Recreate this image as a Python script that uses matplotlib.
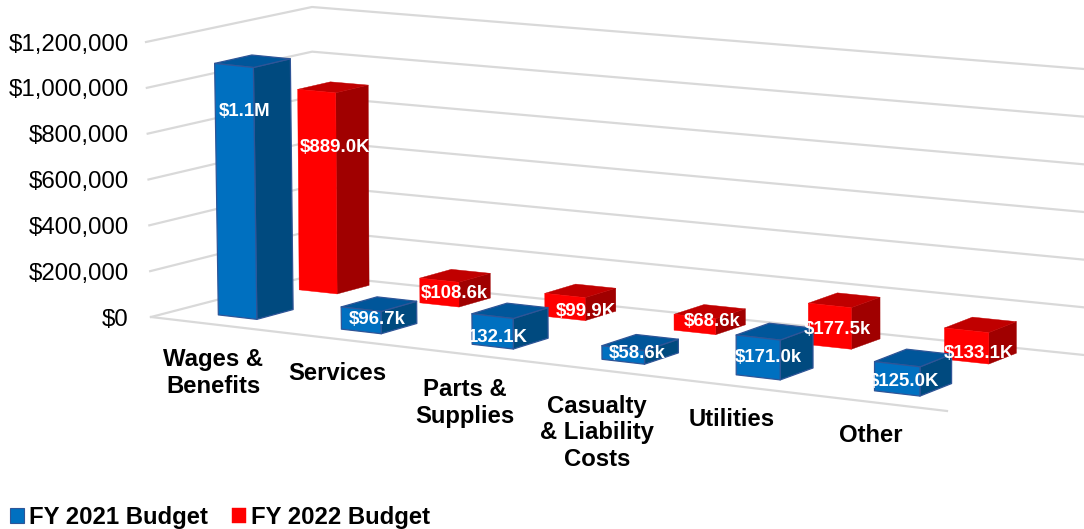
import numpy as np
import matplotlib
matplotlib.use("Agg")
import matplotlib.pyplot as plt
from matplotlib.patches import Polygon, Patch
from matplotlib.ticker import FuncFormatter

plt.rcParams['font.family'] = ['Liberation Sans', 'DejaVu Sans']

# ---- data ----
categories = ["Wages &\nBenefits", "Services", "Parts &\nSupplies",
              "Casualty\n& Liability\nCosts", "Utilities", "Other"]
fy2021 = [1100000, 96700, 132100, 58600, 171000, 125000]
fy2022 = [889000, 108600, 99900, 68600, 177500, 133100]
labels2021 = ["$1.1M", "$96.7k", "132.1K", "$58.6k", "$171.0k", "$125.0K"]
labels2022 = ["$889.0K", "$108.6k", "$99.9K", "$68.6k", "$177.5k", "$133.1K"]
series_names = ["FY 2021 Budget", "FY 2022 Budget"]
value_ticks = [0, 200000, 400000, 600000, 800000, 1000000, 1200000]

# ---- layout / style ----
W, H = 1084, 529
TOP = 1200000
floor_FL, floor_FR, floor_BR, floor_BL = (151, 317), (947, 411), (1084, 355), (313, 275)
height_px = {(0, 0): 275, (1, 0): 280, (1, 1): 286, (0, 1): 268}
tilt_px = {(0, 0): -5, (1, 0): 1, (1, 1): 0, (0, 1): -1}
DEPTH_2021 = (0.155, 0.375)
DEPTH_2022 = (0.713, 0.92)
# small placement corrections of each bar along the category axis
shift2021 = [0.0058, 0.0148, 0.024, 0.022, 0.016, 0.0055]
shift2022 = [-0.0087, 0.0, 0.005, 0.006, 0.004, -0.005]
GRID = "#D9D9D9"
BLUE = dict(front="#0070C0", side="#004A7F", top="#00569A", edge="#2F5597")
RED = dict(front="#FF0000", side="#A00000", top="#C00000", edge=None)
pos2021 = [(245, 112), (377, 320), (498, 337), (637, 353), (768, 357), (904, 381)]
pos2022 = [(335, 147), (454, 293), (586, 311), (712, 322), (837, 330), (979, 353)]
cat_pos = [(213, 373), (337, 374), (465, 403), (597, 433), (732, 420), (871, 435)]


def floor_homography():
    (x0, y0), (x1, y1), (x2, y2), (x3, y3) = floor_FL, floor_FR, floor_BR, floor_BL
    sx, sy = x0 - x1 + x2 - x3, y0 - y1 + y2 - y3
    dx1, dx2, dy1, dy2 = x1 - x2, x3 - x2, y1 - y2, y3 - y2
    det = dx1 * dy2 - dx2 * dy1
    g = (sx * dy2 - dx2 * sy) / det
    h = (dx1 * sy - sx * dy1) / det
    return np.array([[x1 - x0 + g * x1, x3 - x0 + h * x3, x0],
                     [y1 - y0 + g * y1, y3 - y0 + h * y3, y0],
                     [g, h, 1.0]])


HOMO = floor_homography()


def bilinear(table, u, v):
    return (table[(0, 0)] * (1 - u) * (1 - v) + table[(1, 0)] * u * (1 - v)
            + table[(1, 1)] * u * v + table[(0, 1)] * (1 - u) * v)


def project(u, v, value):
    """category-axis fraction, depth fraction, value -> figure pixel."""
    p = HOMO @ np.array([u, v, 1.0])
    frac = value / TOP
    return (p[0] / p[2] + bilinear(tilt_px, u, v) * frac,
            p[1] / p[2] - bilinear(height_px, u, v) * frac)


fig = plt.figure(figsize=(W / 100, H / 100), dpi=100)
ax = fig.add_axes([0, 0, 1, 1])
ax.set_xlim(0, W)
ax.set_ylim(H, 0)
ax.axis("off")

# value axis: real ticks along the front-left wall edge
vax = fig.add_axes([146 / W, (H - 317) / H, 1 / W, 275 / H])
vax.patch.set_alpha(0)
vax.set_ylim(0, TOP)
vax.set_xticks([])
vax.set_yticks(value_ticks)
vax.yaxis.set_major_formatter(FuncFormatter(lambda t, _: f"${t:,.0f}"))
vax.tick_params(axis="y", length=0, pad=12.5, labelsize=17.3, labelcolor="black")
for s in vax.spines.values():
    s.set_visible(False)

# gridlines
for t in value_ticks:
    pts = [project(0, 0, t), project(0, 1, t), project(1, 1, t)]
    ax.plot(*zip(*pts), color=GRID, lw=1.6, zorder=1, solid_joinstyle="miter")
ax.plot(*zip(project(0, 0, 0), project(1, 0, 0)), color=GRID, lw=1.6, zorder=1)


def draw_box(i, val, depth, style, shift, z):
    center = (i + 0.5) / len(categories) + shift
    half = 0.0285 - 0.004 * center
    u0, u1 = center - half, center + half
    v0, v1 = depth
    top = [project(u0, v0, val), project(u1, v0, val), project(u1, v1, val), project(u0, v1, val)]
    front = [project(u0, v0, 0), project(u1, v0, 0), project(u1, v0, val), project(u0, v0, val)]
    side = [project(u1, v0, 0), project(u1, v1, 0), project(u1, v1, val), project(u1, v0, val)]
    for verts, key in ((side, "side"), (top, "top"), (front, "front")):
        ec = style["edge"] if style["edge"] else style[key]
        ax.add_patch(Polygon(verts, closed=True, facecolor=style[key], edgecolor=ec,
                             lw=0.9 if style["edge"] else 0.3, joinstyle="round", zorder=z))


for i, val in enumerate(fy2022):
    draw_box(i, val, DEPTH_2022, RED, shift2022[i], 2 + i * 0.01)
for i, val in enumerate(fy2021):
    draw_box(i, val, DEPTH_2021, BLUE, shift2021[i], 3 + i * 0.01)

# data labels
for txts, places in ((labels2021, pos2021), (labels2022, pos2022)):
    for s, (x, y) in zip(txts, places):
        ax.text(x, y, s, color="white", fontsize=13.4, fontweight="bold",
                ha="center", va="center", zorder=6)

# category labels
for s, (x, y) in zip(categories, cat_pos):
    ax.text(x, y, s, color="black", fontsize=17.2, fontweight="bold",
            ha="center", va="center", multialignment="center", linespacing=1.2, zorder=6)

# legend
handles = [Patch(facecolor=BLUE["front"], edgecolor=BLUE["edge"], lw=0.8, label=series_names[0]),
           Patch(facecolor=RED["front"], edgecolor=RED["front"], lw=0.3, label=series_names[1])]
fig.legend(handles=handles, loc="lower left", bbox_to_anchor=(10 / W, 0.0), ncol=2, frameon=False,
           prop=dict(size=17.2, weight="bold"), borderpad=0, borderaxespad=0,
           handlelength=0.6, handleheight=0.6, handletextpad=0.2, columnspacing=1.0)

fig.savefig("out.png", dpi=100)
